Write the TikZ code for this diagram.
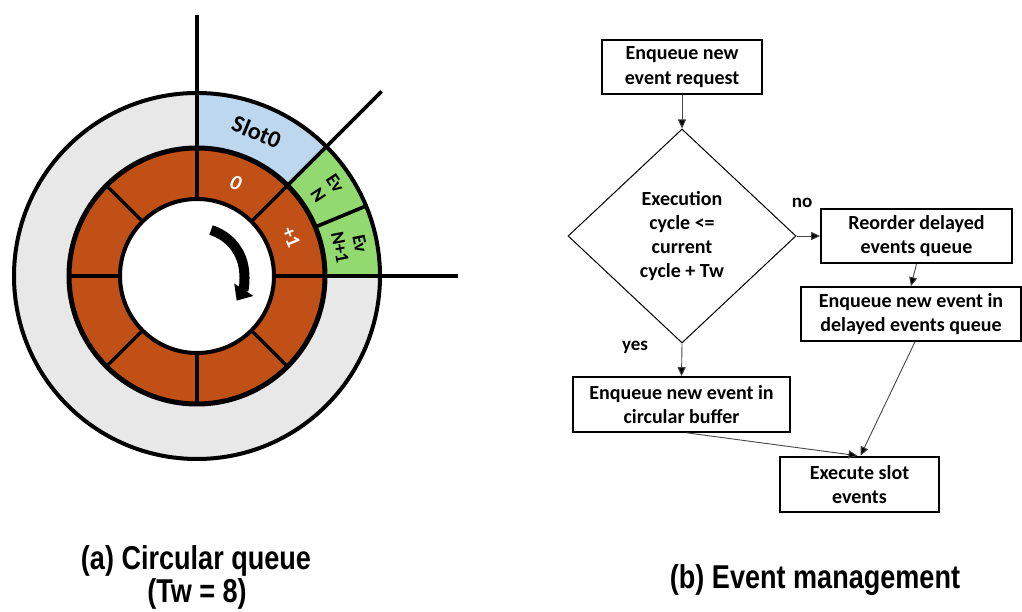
\documentclass[tikz,border=0pt]{standalone}
\usepackage{fontspec}
\setmainfont{Carlito}
\newfontfamily\capfont[FakeStretch=0.82]{Liberation Sans}
\usetikzlibrary{shapes.geometric,arrows.meta}

\definecolor{ringgray}{RGB}{232,232,232}
\definecolor{slotblue}{RGB}{189,215,238}
\definecolor{evgreen}{RGB}{146,218,112}
\definecolor{bufrust}{RGB}{192,80,22}
\definecolor{linkgray}{RGB}{70,70,70}

\tikzset{
  ringline/.style={line width=3.6pt},
  flowbox/.style={draw, line width=1.6pt, font=\fontsize{20}{24.5}\selectfont\bfseries,
    align=center, inner sep=0pt},
  decision/.style={draw, diamond, line width=1pt, inner sep=0pt,
    font=\fontsize{20}{24}\selectfont\bfseries, align=center,
    minimum width=228pt, minimum height=214pt},
  link/.style={draw=linkgray, line width=0.9pt, -{Triangle[length=9pt,width=8pt,fill=black]}},
  answer/.style={font=\fontsize{19}{22}\selectfont\bfseries},
  caption/.style={font=\capfont\fontsize{33}{36}\selectfont\bfseries, anchor=base},
  ringlabel/.style={inner sep=0pt, align=center},
  evlabel/.style={ringlabel, font=\fontsize{19}{20.5}\selectfont\bfseries},
}

\begin{document}
\begin{tikzpicture}[x=1pt,y=1pt]
\useasboundingbox (0,0) rectangle (1022,612);

% ---------------- (a) circular queue ----------------
\begin{scope}[shift={(197,336)}]
  % outer ring and its coloured sectors
  \fill[ringgray] (0,0) circle[radius=183];
  \fill[slotblue] (90:183) arc[start angle=90,end angle=45,radius=183]
    -- (45:128) arc[start angle=45,end angle=90,radius=128] -- cycle;
  \fill[evgreen] (45:183) arc[start angle=45,end angle=0,radius=183]
    -- (0:128) arc[start angle=0,end angle=45,radius=128] -- cycle;
  % buffer ring
  \fill[bufrust] (0,0) circle[radius=128];
  \fill[white] (0,0) circle[radius=77];
  % slot dividers of the buffer
  \foreach \a in {0,45,...,315}
    \draw[line width=3.4pt] (\a:77) -- (\a:128);
  % event divider and radial guides
  \draw[ringline] (22.5:128) -- (22.5:183);
  \foreach \a in {90,45,0}
    \draw[ringline] (\a:128) -- (\a:261);
  % circle outlines
  \draw[line width=4pt] (0,0) circle[radius=183];
  \draw[line width=5pt] (0,0) circle[radius=128];
  \draw[line width=4pt] (0,0) circle[radius=77];
  % rotation arrow
  \draw[line width=10pt, -{Triangle[length=13pt,width=22pt]}]
    (73:48) arc[start angle=73,end angle=-33,radius=47];
  % labels
  \node[ringlabel, rotate=-22.5, font=\fontsize{24}{26}\selectfont\bfseries] (slot) at (67.5:156) {Slot0};
  \node[ringlabel, rotate=-20, text=white, font=\fontsize{21}{22}\selectfont\bfseries\itshape] (zero) at (67.5:101) {0};
  \node[ringlabel, rotate=-67.5, text=white, font=\fontsize{20}{22}\selectfont\bfseries] (plusone) at (22.5:102) {+1};
  \node[rotate=-56.25, evlabel] (evn) at (33.75:156) {Ev\\N};
  \node[rotate=-78.75, evlabel] (evn1) at (11.25:156) {Ev\\N+1};
\end{scope}

% ---------------- (b) event management ----------------
\node[flowbox, minimum width=160pt, minimum height=54pt] (req) at (682,545)
  {Enqueue new\\event request};
\node[decision] (dec) at (682,376)
  {Execution\\cycle <=\\current\\cycle + Tw};
\node[flowbox, minimum width=191pt, minimum height=54pt] (reorder) at (916.5,376)
  {Reorder delayed\\events queue};
\node[flowbox, minimum width=220pt, minimum height=54pt] (delayed) at (911,298)
  {Enqueue new event in\\delayed events queue};
\node[flowbox, minimum width=217pt, minimum height=55pt] (circ) at (681.5,207.5)
  {Enqueue new event in\\circular buffer};
\node[flowbox, line width=2.6pt, minimum width=159pt, minimum height=55pt] (exec) at (859.5,127.5)
  {Execute slot\\events};
\node[answer] (no) at (802,409) {no};
\node[answer] (yes) at (635,265) {yes};

\draw[link] (req.south) -- (dec.north);
\draw[link] (dec.east) -- (reorder.west);
\draw[link] (reorder.south) -- (delayed.north);
\draw[link] (dec.south) -- (circ.north);
\draw[link] ([xshift=5pt]circ.south) -- ([xshift=-2pt]exec.north);
\draw[link] ([xshift=4pt]delayed.south) -- ([xshift=1pt]exec.north);

% ---------------- captions ----------------
\node[caption] (capa) at (196,42) {(a) Circular queue};
\node[caption] (capa2) at (197,9) {(Tw = 8)};
\node[caption] (capb) at (815,23) {(b) Event management};
\end{tikzpicture}
\end{document}
